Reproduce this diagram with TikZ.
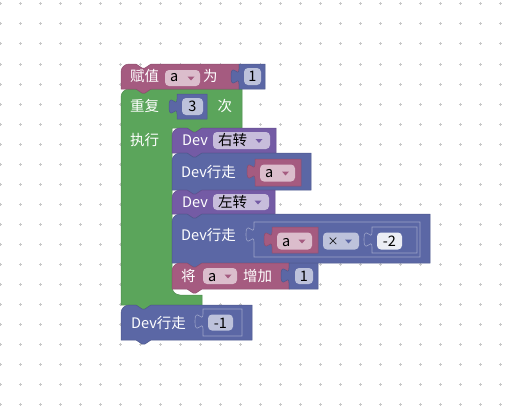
\documentclass[tikz,border=0pt]{standalone}
\usepackage{fontspec}
\newfontfamily\cjkfont{Noto Sans CJK SC}

\definecolor{varcol}{HTML}{A55B80}
\definecolor{loopcol}{HTML}{5BA55B}
\definecolor{turncol}{HTML}{745BA5}
\definecolor{mathcol}{HTML}{5B67A5}
\definecolor{gridcol}{HTML}{C8C8C8}

% statement block: style, x, y, width, height
\newcommand{\stmtblock}[5]{%
  \filldraw[#1] (#2,{#3+#5}) -- (#2,{#3+8}) arc[start angle=180,end angle=270,radius=8]
    -- ({#2+15},#3) -- ++(6,4) -- ++(3,0) -- ++(6,-4) -- ({#2+#4},#3)
    -- ({#2+#4},{#3+#5}) -- ({#2+30},{#3+#5}) -- ++(-6,4) -- ++(-3,0) -- ++(-6,-4) -- cycle;}
% value block with puzzle tab: style, x, y, width, height
\newcommand{\valblock}[5]{%
  \filldraw[#1] (#2,#3) -- ({#2+#4},#3) -- ({#2+#4},{#3+#5}) -- (#2,{#3+#5}) -- (#2,{#3+20})
    .. controls (#2,{#3+10}) and ({#2-8},{#3+28}) .. ({#2-8},{#3+12.5})
    .. controls ({#2-8},{#3-3}) and (#2,{#3+15}) .. (#2,{#3+5}) -- cycle;}
% dropdown arrow: colour, x, y
\newcommand{\ddarrow}[3]{\fill[#1] ({#2-3.5},{#3-1.5}) -- ({#2+3.5},{#3-1.5}) -- (#2,{#3+2.5}) -- cycle;}

\tikzset{
  varblk/.style={fill=varcol, draw=varcol!85!black, line width=0.5pt},
  loopblk/.style={fill=loopcol, draw=loopcol!85!black, line width=0.5pt},
  turnblk/.style={fill=turncol, draw=turncol!85!black, line width=0.5pt},
  mathblk/.style={fill=mathcol, draw=mathcol!85!black, line width=0.5pt},
  mathin/.style={fill=mathcol, draw=white!40!mathcol, line width=0.6pt},
  varfield/.style={fill=white!60!varcol, rounded corners=4pt},
  turnfield/.style={fill=white!60!turncol, rounded corners=4pt},
  numfield/.style={fill=white!60!mathcol, rounded corners=4pt},
  litefield/.style={fill=white!88!mathcol, rounded corners=4pt},
  lbl/.style={font=\cjkfont\fontsize{14.5}{16}\selectfont, text=white, inner sep=0pt, anchor=base west},
  opt/.style={lbl, text=black},
  val/.style={lbl, text=black, anchor=base}
}

\begin{document}
\begin{tikzpicture}[x=1pt, y=-1pt]
\useasboundingbox (0,0) rectangle (505,412);

% workspace grid
\foreach \gx in {0,20,...,500} {
  \foreach \gy in {4,24,...,404} {
    \draw[gridcol, line width=1pt] ({\gx-1.5},\gy) -- ({\gx+1.5},\gy) (\gx,{\gy-1.5}) -- (\gx,{\gy+1.5});
  }
}

% repeat loop (C shape)
\filldraw[loopblk] (121,305) -- (121,97) arc[start angle=180,end angle=270,radius=8]
  -- (136,89) -- ++(6,4) -- ++(3,0) -- ++(6,-4) -- (242,89) -- (242,128)
  -- (202,128) -- ++(-6,4) -- ++(-3,0) -- ++(-6,-4) -- (172,128)
  -- (172,287) arc[start angle=180,end angle=90,radius=8] -- (202,295) -- (202,305)
  -- (151,305) -- ++(-6,4) -- ++(-3,0) -- ++(-6,-4) -- cycle;
\node[lbl] (rep) at (130,111.5) {重复};
\valblock{mathblk}{177}{94}{30}{25}
\fill[numfield] (182,98) rectangle (203,115);
\node[val] (reptimes) at (192.5,111.5) {3};
\node[lbl] (ci) at (217.5,111.5) {次};
\node[lbl] (exec) at (130,145.5) {执行};

% set variable
\stmtblock{varblk}{121}{64}{118}{25}
\node[lbl] (setv) at (130,81.5) {赋值};
\fill[varfield] (165,70) rectangle (200,86);
\node[opt] (setvar) at (170,81.5) {a};
\ddarrow{varcol}{191}{78}
\node[lbl] (wei) at (203,81.5) {为};
\valblock{mathblk}{239}{64}{26}{25}
\fill[numfield] (244,68) rectangle (261,85);
\node[val] (setnum) at (252.5,81.5) {1};

% turn right
\stmtblock{turnblk}{172}{128}{104}{25}
\node[lbl] (devr) at (182,145.5) {Dev};
\fill[turnfield] (213,132) rectangle (270,149);
\node[opt] (right) at (218,145.5) {右转};
\ddarrow{turncol}{259}{140.5}

% walk a
\stmtblock{mathblk}{172}{153}{139}{37}
\node[lbl] (walka) at (181,177.5) {Dev行走};
\valblock{varblk}{255}{159}{46}{27}
\fill[varfield] (260,164.5) rectangle (295,181.5);
\node[opt] (walkvar) at (265,177.5) {a};
\ddarrow{varcol}{285.5}{173}

% turn left
\stmtblock{turnblk}{172}{190}{103}{24}
\node[lbl] (devl) at (182,207) {Dev};
\fill[turnfield] (213,194) rectangle (269,210);
\node[opt] (left) at (218,207) {左转};
\ddarrow{turncol}{258}{202}

% walk a x -2
\stmtblock{mathblk}{172}{214}{258}{49}
\node[lbl] (walkb) at (181,240) {Dev行走};
\valblock{mathin}{254}{222}{166}{35}
\valblock{varblk}{272}{227}{46}{26}
\fill[varfield] (277,232.5) rectangle (312,249.5);
\node[opt] (mulvar) at (282,246) {a};
\ddarrow{varcol}{302}{241}
\fill[numfield] (323,232.5) rectangle (359,249.5);
\node[val, font=\cjkfont\fontsize{11}{12}\selectfont] (times) at (333,245) {×};
\ddarrow{mathcol}{348.5}{241}
\valblock{mathin}{372}{227}{45}{26}
\fill[litefield] (377,232.5) rectangle (402,249.5);
\node[val] (mulnum) at (389.5,246) {-2};

% change a by 1
\stmtblock{varblk}{172}{263}{117}{26}
\node[lbl] (jiang) at (181,281) {将};
\fill[varfield] (203,268) rectangle (237,284);
\node[opt] (incvar) at (208,281) {a};
\ddarrow{varcol}{228}{276}
\node[lbl] (inc) at (243,281) {增加};
\valblock{mathblk}{289}{263}{29}{26}
\fill[numfield] (295,268) rectangle (313,284);
\node[val] (incnum) at (304,281) {1};

% walk -1
\stmtblock{mathblk}{121}{305}{131}{35}
\node[lbl] (walkc) at (131,328) {Dev行走};
\valblock{mathin}{203}{309}{39}{27}
\fill[numfield] (208,314.5) rectangle (233,330.5);
\node[val] (backnum) at (220.5,328) {-1};

\end{tikzpicture}
\end{document}
